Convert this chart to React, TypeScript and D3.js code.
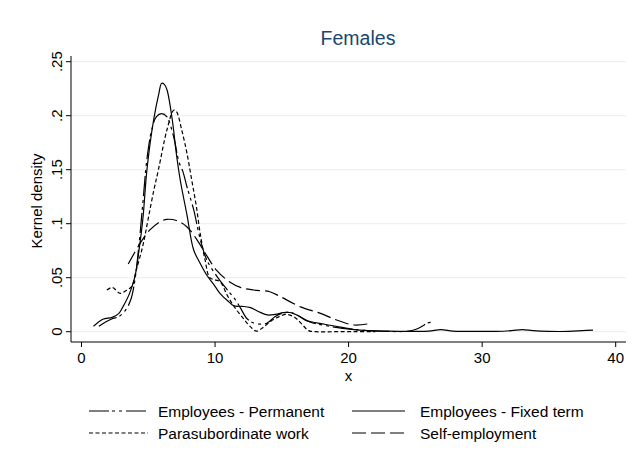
import React from "react";
import * as d3 from "d3";

const xTicks = [0, 10, 20, 30, 40];
const yTicks = [0, 0.05, 0.1, 0.15, 0.2, 0.25];
const yTickLabels = ["0", ".05", ".1", ".15", ".2", ".25"];

const permX = [1.3, 1.8, 2.3, 2.8, 3.3, 3.7, 4.0, 4.3, 4.6, 4.9, 5.26, 5.6, 6.0, 6.4, 6.8, 7.0, 7.3, 7.6, 7.9, 8.4, 8.9, 9.4, 10.1, 10.9, 11.5, 11.9, 12.4, 12.9, 13.4, 13.9, 14.5, 15.0, 15.6, 16.2, 17.1, 18.6, 20.4, 22.4, 24.5, 25.0, 25.5, 25.9, 26.4];
const permY = [0.005, 0.009, 0.012, 0.014, 0.02, 0.03, 0.048, 0.08, 0.12, 0.16, 0.187, 0.199, 0.202, 0.199, 0.185, 0.175, 0.157, 0.148, 0.134, 0.113, 0.085, 0.066, 0.052, 0.039, 0.03, 0.022, 0.012, 0.008, 0.007, 0.008, 0.014, 0.017, 0.018, 0.015, 0.009, 0.005, 0.002, 0.0005, 0.0005, 0.002, 0.005, 0.008, 0.009];

const fixedX = [0.9, 1.6, 2.3, 2.8, 3.1, 3.6, 4.0, 4.3, 4.6, 4.9, 5.4, 5.8, 6.0, 6.2, 6.4, 6.8, 7.1, 7.4, 7.9, 8.4, 8.9, 9.4, 10.0, 10.4, 11.0, 11.4, 12.0, 12.6, 13.2, 13.9, 14.5, 15.1, 15.6, 16.2, 16.9, 17.7, 18.6, 19.5, 20.4, 21.5, 23, 24.5, 26, 26.9, 27.8, 29, 31, 32.2, 33, 33.8, 35, 36.5, 37.5, 38.3];
const fixedY = [0.005, 0.0115, 0.0133, 0.017, 0.023, 0.0355, 0.051, 0.075, 0.105, 0.15, 0.196, 0.221, 0.23, 0.229, 0.224, 0.196, 0.165, 0.14, 0.108, 0.0756, 0.063, 0.052, 0.042, 0.035, 0.028, 0.024, 0.0235, 0.0225, 0.019, 0.0155, 0.016, 0.0176, 0.0178, 0.015, 0.01, 0.008, 0.006, 0.004, 0.002, 0.001, 0.0005, 0.0003, 0.0005, 0.002, 0.0005, 0.0003, 0.0003, 0.001, 0.002, 0.001, 0.0003, 0.0003, 0.001, 0.0015];

const paraX = [1.9, 2.3, 2.9, 3.4, 3.76, 4.1, 4.6, 5.0, 5.4, 5.76, 6.4, 6.9, 7.1, 7.5, 7.9, 8.26, 8.6, 8.9, 9.26, 9.6, 10.0, 10.4, 10.9, 11.5, 12.2, 12.7, 13.1, 13.6, 14.2, 14.8, 15.4, 16.0, 16.5, 17.0, 17.5, 19, 20.5, 22];
const paraY = [0.0386, 0.041, 0.0355, 0.0386, 0.042, 0.057, 0.08, 0.105, 0.13, 0.15, 0.187, 0.205, 0.204, 0.187, 0.165, 0.14, 0.116, 0.09, 0.066, 0.05, 0.048, 0.046, 0.034, 0.022, 0.011, 0.004, 0.0005, 0.004, 0.01, 0.014, 0.016, 0.013, 0.007, 0.001, 0, 0, 0, 0];

const selfX = [3.5, 4.4, 5.1, 5.9, 6.4, 7.1, 7.9, 8.6, 9.4, 10.1, 11.1, 11.9, 12.9, 14.1, 14.9, 16.4, 17.9, 19.1, 20.4, 21.4];
const selfY = [0.0627, 0.082, 0.094, 0.102, 0.104, 0.103, 0.097, 0.086, 0.07, 0.057, 0.046, 0.041, 0.0386, 0.037, 0.0324, 0.023, 0.017, 0.0108, 0.0062, 0.0071];

const seriesNames = ["Employees - Permanent", "Employees - Fixed term", "Parasubordinate work", "Self-employment"];

const W = 636, H = 465;
const plot = { left: 71, right: 626, top: 56, bottom: 342 };
const FONT = "'Liberation Sans', Arial, Helvetica, sans-serif";

export default function App() {
  const x = d3.scaleLinear().domain([0, 40]).range([81.5, 615.7]);
  const y = d3.scaleLinear().domain([0, 0.25]).range([331.7, 61.7]);
  const line = d3.line<[number, number]>().x(d => x(d[0])).y(d => y(d[1])).curve(d3.curveCatmullRom.alpha(0.5));

  const series = [
    { name: seriesNames[0], xs: permX, ys: permY, dash: "20 3 3 4 3 4" },
    { name: seriesNames[1], xs: fixedX, ys: fixedY, dash: "none" },
    { name: seriesNames[2], xs: paraX, ys: paraY, dash: "4 2.5" },
    { name: seriesNames[3], xs: selfX, ys: selfY, dash: "14 5" },
  ];

  const legendPos = [
    { x1: 89, x2: 148, tx: 158, ty: 411 },
    { x1: 352, x2: 405, tx: 420, ty: 411 },
    { x1: 89, x2: 148, tx: 158, ty: 433 },
    { x1: 352, x2: 405, tx: 420, ty: 433 },
  ];

  return (
    <svg width={W} height={H} style={{ position: "absolute", left: 0, top: 0, background: "#fff" }} fontFamily={FONT}>
      <rect x={0} y={0} width={W} height={H} fill="#fff" />
      {yTicks.map((t, i) => (
        <line key={"g" + i} x1={plot.left} x2={plot.right} y1={y(t)} y2={y(t)} stroke="#eaf2f3" strokeWidth={1.2} />
      ))}
      <text x={358} y={45} textAnchor="middle" fontSize={19.5} fill="#1a476f">Females</text>
      <line x1={plot.left} x2={plot.left} y1={plot.top} y2={plot.bottom} stroke="#000" strokeWidth={1} />
      <line x1={plot.left} x2={plot.right} y1={plot.bottom} y2={plot.bottom} stroke="#000" strokeWidth={1} />
      {yTicks.map((t, i) => (
        <g key={"yt" + i}>
          <line x1={plot.left - 5} x2={plot.left} y1={y(t)} y2={y(t)} stroke="#000" />
          <text transform={`translate(${plot.left - 9},${y(t)}) rotate(-90)`} textAnchor="middle" fontSize={15} fill="#000">{yTickLabels[i]}</text>
        </g>
      ))}
      {xTicks.map((t, i) => (
        <g key={"xt" + i}>
          <line x1={x(t)} x2={x(t)} y1={plot.bottom} y2={plot.bottom + 5} stroke="#000" />
          <text x={x(t)} y={363} textAnchor="middle" fontSize={15} fill="#000">{t}</text>
        </g>
      ))}
      <text transform={`translate(42,${(plot.top + plot.bottom) / 2 + 2}) rotate(-90)`} textAnchor="middle" fontSize={15} fill="#000">Kernel density</text>
      <text x={348.5} y={381} textAnchor="middle" fontSize={15} fill="#000">x</text>
      {series.map((s, i) => (
        <path key={"s" + i} d={line(s.xs.map((v, j) => [v, s.ys[j]] as [number, number])) || ""} fill="none" stroke="#000" strokeWidth={1.2} strokeDasharray={s.dash} />
      ))}
      {series.map((s, i) => (
        <g key={"l" + i}>
          <line x1={legendPos[i].x1} x2={legendPos[i].x2} y1={legendPos[i].ty} y2={legendPos[i].ty} stroke="#000" strokeWidth={1.2} strokeDasharray={s.dash} />
          <text x={legendPos[i].tx} y={legendPos[i].ty + 5.5} fontSize={15.5} fill="#000">{s.name}</text>
        </g>
      ))}
    </svg>
  );
}
